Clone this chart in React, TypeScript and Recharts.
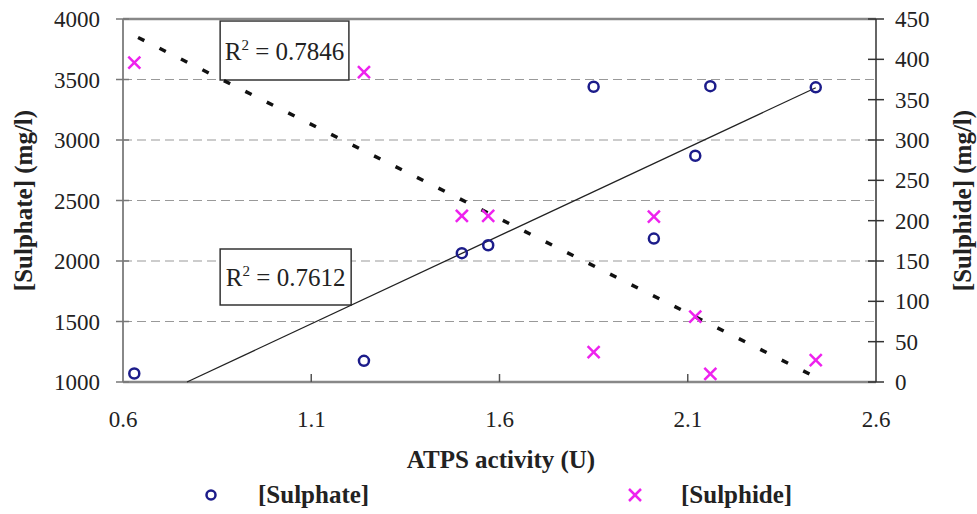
import React from "react";
import {
  ComposedChart,
  Scatter,
  XAxis,
  YAxis,
  CartesianGrid,
  ReferenceArea,
  ReferenceLine,
  Legend,
} from "recharts";

// ATPS activity (U) for every sample
const activity = [0.63, 1.24, 1.5, 1.57, 1.85, 2.01, 2.12, 2.16, 2.44];
// [Sulphate] (mg/l), left axis
const sulphate = [1070, 1175, 2065, 2130, 3440, 2185, 2870, 3445, 3435];
// [Sulphide] (mg/l), right axis
const sulphide = [396, 384, 206, 206, 37, 205, 81, 10, 27];

// linear trend lines (end points)
const sulphateTrendX = [0.77, 2.44];
const sulphateTrendY = [1000, 3432];
const sulphideTrendX = [0.64, 2.44];
const sulphideTrendY = [427, 6];

const xTicks = [0.6, 1.1, 1.6, 2.1, 2.6];
const leftTicks = [1000, 1500, 2000, 2500, 3000, 3500, 4000];
const rightTicks = [0, 50, 100, 150, 200, 250, 300, 350, 400, 450];

const sulphateData = activity.map((x, i) => ({ x, y: sulphate[i] }));
const sulphideData = activity.map((x, i) => ({ x, y: sulphide[i] }));
const sulphateTrend = sulphateTrendX.map((x, i) => ({ x, y: sulphateTrendY[i] }));
const sulphideTrend = sulphideTrendX.map((x, i) => ({ x, y: sulphideTrendY[i] }));

const FONT = "'Liberation Serif', 'Times New Roman', serif";
const NAVY = "#1c1c8a";
const MAGENTA = "#ee22ee";

const Circle = (p: any) => (
  <circle cx={p.cx} cy={p.cy} r={5} fill="none" stroke={NAVY} strokeWidth={2.5} />
);
const Cross = (p: any) => (
  <g stroke={MAGENTA} strokeWidth={2.5}>
    <line x1={p.cx - 6} y1={p.cy - 6} x2={p.cx + 6} y2={p.cy + 6} />
    <line x1={p.cx - 6} y1={p.cy + 6} x2={p.cx + 6} y2={p.cy - 6} />
  </g>
);
const NoDot = () => <g />;

const XTick = (p: any) => (
  <g>
    {p.index > 0 && p.index < xTicks.length - 1 && (
      <line x1={p.x} y1={p.y} x2={p.x} y2={p.y - 8} stroke="#555" strokeWidth={1.5} />
    )}
    <text x={p.x} y={p.y + 45} textAnchor="middle" fontFamily={FONT} fontSize={23} fill="#222">
      {p.payload.value}
    </text>
  </g>
);

const LeftTick = (p: any) => (
  <g>
    <line x1={p.x - 7} y1={p.y} x2={p.x + 6} y2={p.y} stroke="#777" strokeWidth={1.5} />
    <text x={p.x - 23} y={p.y + 8} textAnchor="end" fontFamily={FONT} fontSize={23} fill="#222">
      {p.payload.value}
    </text>
  </g>
);

const RightTick = (p: any) => (
  <g>
    <line x1={p.x - 8} y1={p.y} x2={p.x + 8} y2={p.y} stroke="#333" strokeWidth={1.5} />
    <text x={p.x + 19} y={p.y + 8} textAnchor="start" fontFamily={FONT} fontSize={23} fill="#222">
      {p.payload.value}
    </text>
  </g>
);

const Title = ({ viewBox, value, dx, dy, rotate }: any) => {
  const cx = viewBox.x + dx;
  const cy = rotate ? viewBox.y + viewBox.height / 2 : viewBox.y + dy;
  return (
    <text
      x={cx}
      y={cy}
      textAnchor="middle"
      dominantBaseline={rotate ? "central" : "auto"}
      transform={rotate ? `rotate(-90 ${cx} ${cy})` : undefined}
      fontFamily={FONT}
      fontWeight="bold"
      fontSize={25}
      fill="#222"
    >
      {value}
    </text>
  );
};

const R2Label = ({ viewBox, value }: any) => {
  const cx = viewBox.x + viewBox.width / 2;
  const cy = viewBox.y + viewBox.height / 2 + 9;
  return (
    <text x={cx} y={cy} textAnchor="middle" fontFamily={FONT} fontSize={25} fill="#222">
      R
      <tspan dy={-10} fontSize={15}>2</tspan>
      <tspan dy={10}>{` = ${value}`}</tspan>
    </text>
  );
};

const LegendBox = () => (
  <div style={{ position: "relative", height: 30, fontFamily: FONT, fontWeight: "bold", fontSize: 25, color: "#222" }}>
    <svg style={{ position: "absolute", left: 203, top: 7 }} width={16} height={16}>
      <circle cx={8} cy={8} r={4.5} fill="none" stroke={NAVY} strokeWidth={2.5} />
    </svg>
    <span style={{ position: "absolute", left: 258, top: 0, lineHeight: "30px" }}>[Sulphate]</span>
    <svg style={{ position: "absolute", left: 627, top: 7 }} width={16} height={16}>
      <line x1={2} y1={2} x2={14} y2={14} stroke={MAGENTA} strokeWidth={2.5} />
      <line x1={2} y1={14} x2={14} y2={2} stroke={MAGENTA} strokeWidth={2.5} />
    </svg>
    <span style={{ position: "absolute", left: 681, top: 0, lineHeight: "30px" }}>[Sulphide]</span>
  </div>
);

export default function App() {
  return (
    <div style={{ position: "absolute", left: 0, top: 0, background: "#fff" }}>
      <ComposedChart width={977} height={514} margin={{ top: 19, right: 0, left: 0, bottom: 4 }}>
        <CartesianGrid
          yAxisId="left"
          vertical={false}
          stroke="#999"
          strokeDasharray="9 5"
          strokeWidth={1.2}
        />
        <XAxis
          type="number"
          dataKey="x"
          domain={[0.6, 2.6]}
          ticks={xTicks}
          interval={0}
          height={98}
          tickSize={0}
          tickMargin={0}
          tick={<XTick />}
          axisLine={{ stroke: "#888", strokeWidth: 2.5 }}
          tickLine={false}
          label={<Title value="ATPS activity (U)" dx={378} dy={86} />}
        />
        <YAxis
          yAxisId="left"
          type="number"
          dataKey="y"
          orientation="left"
          domain={[1000, 4000]}
          ticks={leftTicks}
          interval={0}
          width={123}
          tickSize={0}
          tickMargin={0}
          tick={<LeftTick />}
          tickLine={false}
          axisLine={{ stroke: "#888", strokeWidth: 2 }}
          label={<Title value="[Sulphate] (mg/l)" dx={23} rotate />}
        />
        <YAxis
          yAxisId="right"
          type="number"
          dataKey="y"
          orientation="right"
          domain={[0, 450]}
          ticks={rightTicks}
          interval={0}
          width={101}
          tickSize={0}
          tickMargin={0}
          tick={<RightTick />}
          tickLine={false}
          axisLine={{ stroke: "#333", strokeWidth: 1.5 }}
          label={<Title value="[Sulphide] (mg/l)" dx={86} rotate />}
        />
        <ReferenceLine yAxisId="left" y={4000} stroke="#888" strokeWidth={2.5} />
        <Scatter
          yAxisId="left"
          data={sulphateTrend}
          shape={NoDot}
          line={{ stroke: "#222", strokeWidth: 1.3 }}
          legendType="none"
          isAnimationActive={false}
        />
        <Scatter
          yAxisId="right"
          data={sulphideTrend}
          shape={NoDot}
          line={{ stroke: "#111", strokeWidth: 3.5, strokeDasharray: "7 17" }}
          legendType="none"
          isAnimationActive={false}
        />
        <ReferenceArea
          yAxisId="left"
          x1={0.858}
          x2={1.2}
          y1={3496}
          y2={3983}
          fill="#fff"
          fillOpacity={1}
          stroke="#333"
          strokeWidth={1.5}
          ifOverflow="visible"
          label={<R2Label value="0.7846" />}
        />
        <ReferenceArea
          yAxisId="left"
          x1={0.858}
          x2={1.206}
          y1={1636}
          y2={2099}
          fill="#fff"
          fillOpacity={1}
          stroke="#333"
          strokeWidth={1.5}
          ifOverflow="visible"
          label={<R2Label value="0.7612" />}
        />
        <Scatter
          name="[Sulphate]"
          yAxisId="left"
          data={sulphateData}
          shape={Circle}
          isAnimationActive={false}
        />
        <Scatter
          name="[Sulphide]"
          yAxisId="right"
          data={sulphideData}
          shape={Cross}
          isAnimationActive={false}
        />
        <Legend verticalAlign="bottom" height={30} content={<LegendBox />} />
      </ComposedChart>
    </div>
  );
}
